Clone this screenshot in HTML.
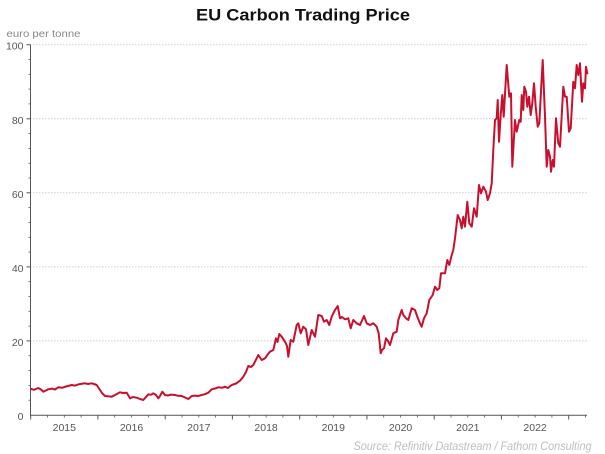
<!DOCTYPE html>
<html>
<head>
<meta charset="utf-8">
<style>
  html, body { margin:0; padding:0; background:#fff; }
  svg { display:block; }
</style>
</head>
<body>
<svg width="605" height="454" viewBox="0 0 605 454" xmlns="http://www.w3.org/2000/svg">
  <rect width="605" height="454" fill="#fff"/>
  <!-- Title -->
  <text x="196" y="20.7" font-family="Liberation Sans, sans-serif" font-weight="bold" font-size="17" fill="#111" textLength="214" lengthAdjust="spacingAndGlyphs">EU Carbon Trading Price</text>
  <!-- Unit label -->
  <text x="6.5" y="37" font-family="Liberation Sans, sans-serif" font-size="10" fill="#888" textLength="74" lengthAdjust="spacingAndGlyphs">euro per tonne</text>

  <!-- Gridlines -->
  <g stroke="#cfcfcf" stroke-width="1" stroke-dasharray="1.5,1.5">
    <line x1="30" y1="44.7" x2="587" y2="44.7"/>
    <line x1="30" y1="118.8" x2="587" y2="118.8"/>
    <line x1="30" y1="192.8" x2="587" y2="192.8"/>
    <line x1="30" y1="266.9" x2="587" y2="266.9"/>
    <line x1="30" y1="340.9" x2="587" y2="340.9"/>
  </g>

  <!-- Y axis -->
  <g stroke="#555" stroke-width="1">
    <line x1="30.5" y1="44.7" x2="30.5" y2="415"/>
    <!-- major ticks -->
    <line x1="26.5" y1="44.7" x2="30.5" y2="44.7"/>
    <line x1="26.5" y1="118.8" x2="30.5" y2="118.8"/>
    <line x1="26.5" y1="192.8" x2="30.5" y2="192.8"/>
    <line x1="26.5" y1="266.9" x2="30.5" y2="266.9"/>
    <line x1="26.5" y1="340.9" x2="30.5" y2="340.9"/>
    <!-- minor ticks every 4 -->
    <g stroke-width="0.8">
      <line x1="28.5" y1="59.5" x2="30.5" y2="59.5"/>
      <line x1="28.5" y1="74.3" x2="30.5" y2="74.3"/>
      <line x1="28.5" y1="89.1" x2="30.5" y2="89.1"/>
      <line x1="28.5" y1="103.9" x2="30.5" y2="103.9"/>
      <line x1="28.5" y1="133.6" x2="30.5" y2="133.6"/>
      <line x1="28.5" y1="148.4" x2="30.5" y2="148.4"/>
      <line x1="28.5" y1="163.2" x2="30.5" y2="163.2"/>
      <line x1="28.5" y1="178.0" x2="30.5" y2="178.0"/>
      <line x1="28.5" y1="207.6" x2="30.5" y2="207.6"/>
      <line x1="28.5" y1="222.4" x2="30.5" y2="222.4"/>
      <line x1="28.5" y1="237.3" x2="30.5" y2="237.3"/>
      <line x1="28.5" y1="252.1" x2="30.5" y2="252.1"/>
      <line x1="28.5" y1="281.7" x2="30.5" y2="281.7"/>
      <line x1="28.5" y1="296.5" x2="30.5" y2="296.5"/>
      <line x1="28.5" y1="311.3" x2="30.5" y2="311.3"/>
      <line x1="28.5" y1="326.1" x2="30.5" y2="326.1"/>
      <line x1="28.5" y1="355.7" x2="30.5" y2="355.7"/>
      <line x1="28.5" y1="370.6" x2="30.5" y2="370.6"/>
      <line x1="28.5" y1="385.4" x2="30.5" y2="385.4"/>
      <line x1="28.5" y1="400.2" x2="30.5" y2="400.2"/>
    </g>
  </g>

  <!-- Y labels -->
  <g font-family="Liberation Sans, sans-serif" font-size="10.5" fill="#555" text-anchor="end">
    <text x="23.5" y="49.7">100</text>
    <text x="23.5" y="123.8">80</text>
    <text x="23.5" y="197.8">60</text>
    <text x="23.5" y="271.9">40</text>
    <text x="23.5" y="345.9">20</text>
    <text x="23.5" y="420">0</text>
  </g>

  <!-- X axis -->
  <g stroke="#555" stroke-width="1">
    <line x1="30" y1="415.3" x2="587" y2="415.3"/>
    <!-- major ticks (years) -->
    <line x1="30.7" y1="415" x2="30.7" y2="419.5"/>
    <line x1="97.9" y1="415" x2="97.9" y2="419.5"/>
    <line x1="165.2" y1="415" x2="165.2" y2="419.5"/>
    <line x1="232.4" y1="415" x2="232.4" y2="419.5"/>
    <line x1="299.7" y1="415" x2="299.7" y2="419.5"/>
    <line x1="366.9" y1="415" x2="366.9" y2="419.5"/>
    <line x1="434.2" y1="415" x2="434.2" y2="419.5"/>
    <line x1="501.4" y1="415" x2="501.4" y2="419.5"/>
    <line x1="568.7" y1="415" x2="568.7" y2="419.5"/>
    <!-- minor ticks (quarters) -->
    <g stroke-width="0.8">
      <line x1="47.5" y1="415" x2="47.5" y2="417.5"/>
      <line x1="64.3" y1="415" x2="64.3" y2="417.5"/>
      <line x1="81.1" y1="415" x2="81.1" y2="417.5"/>
      <line x1="114.7" y1="415" x2="114.7" y2="417.5"/>
      <line x1="131.5" y1="415" x2="131.5" y2="417.5"/>
      <line x1="148.4" y1="415" x2="148.4" y2="417.5"/>
      <line x1="182.0" y1="415" x2="182.0" y2="417.5"/>
      <line x1="198.8" y1="415" x2="198.8" y2="417.5"/>
      <line x1="215.6" y1="415" x2="215.6" y2="417.5"/>
      <line x1="249.2" y1="415" x2="249.2" y2="417.5"/>
      <line x1="266.1" y1="415" x2="266.1" y2="417.5"/>
      <line x1="282.9" y1="415" x2="282.9" y2="417.5"/>
      <line x1="316.5" y1="415" x2="316.5" y2="417.5"/>
      <line x1="333.3" y1="415" x2="333.3" y2="417.5"/>
      <line x1="350.1" y1="415" x2="350.1" y2="417.5"/>
      <line x1="383.7" y1="415" x2="383.7" y2="417.5"/>
      <line x1="400.6" y1="415" x2="400.6" y2="417.5"/>
      <line x1="417.4" y1="415" x2="417.4" y2="417.5"/>
      <line x1="451.0" y1="415" x2="451.0" y2="417.5"/>
      <line x1="467.8" y1="415" x2="467.8" y2="417.5"/>
      <line x1="484.6" y1="415" x2="484.6" y2="417.5"/>
      <line x1="518.2" y1="415" x2="518.2" y2="417.5"/>
      <line x1="535.1" y1="415" x2="535.1" y2="417.5"/>
      <line x1="551.9" y1="415" x2="551.9" y2="417.5"/>
      <line x1="585.5" y1="415" x2="585.5" y2="417.5"/>
    </g>
  </g>

  <!-- X labels -->
  <g font-family="Liberation Sans, sans-serif" font-size="10.5" fill="#555" text-anchor="middle">
    <text x="64.3" y="431">2015</text>
    <text x="131.5" y="431">2016</text>
    <text x="198.8" y="431">2017</text>
    <text x="266.1" y="431">2018</text>
    <text x="333.3" y="431">2019</text>
    <text x="400.6" y="431">2020</text>
    <text x="467.8" y="431">2021</text>
    <text x="535.1" y="431">2022</text>
  </g>

  <!-- Data line -->
  <polyline fill="none" stroke="#c8102e" stroke-width="2" stroke-linejoin="round" stroke-linecap="round"
    points="31,389 34,389.8 38.3,388 41,389.5 43.3,391.7 46,390.5 48.3,389.3 52,388.6 55,389.5 58.3,387.3 62,387.8 66,386.5 71.7,385 75,385.6 79,384.2 85,383.3 88,384 91.7,383.3 94,384 96.7,385 100,390 102,393 105,396 108,396.3 111.7,396.7 116,394.5 120,392.3 123,393 126.7,392.7 130,398.3 133,397 136.7,397.7 140,399 143.3,400 146,397 148.3,394.3 151,394.8 153.3,393.3 156,395 158.3,398.3 160,396 162.3,391.7 165,395 168,395.5 171,394.6 175,395 178,395.8 181.7,396 185,397.5 188.3,399 191.7,396 195,395.6 198,396 201.7,395 205,394.2 208.3,392.7 211.7,389.3 215,388.5 218.3,387.3 222,387.8 225,386.7 228,388 231.7,385 236,383.5 240,380.7 243.3,376.7 246,372 248.3,366 251,367 253.3,365 256.7,358.3 258.3,355 261.7,360 265,358.3 268,354 270,351.7 273.3,350 276,338.3 277.5,342 279.3,334 281.7,336.7 285,341.7 287,346 288.3,356.7 290.7,340 293.3,341.7 296.7,325 298.3,323.3 300.7,333.3 303.3,326.7 306,329.3 308.3,345 311.7,330 315,336.7 318.3,315 321.7,316 324,321.7 326.7,320 329.3,325 331.7,316.7 335,310 337.7,306 340,318.3 342,317 345,319.3 348.3,318.3 350.7,328.3 353.3,320 356.7,323.3 360,325 364,316 366.7,323.3 370,325 373.3,323.3 376.7,326.7 378.7,333.3 380.7,353.3 382,350 384,348.3 386,338.3 388,341 390,345 393.3,333.3 396.7,331.7 398.3,320 401.7,310 403.3,315 406,318.3 408.3,320 411.7,308.3 415,310 417.3,316.7 420,323.3 421.7,326.7 424,318.3 426.7,313.3 429.3,300 432.7,295 435,286.7 437.3,290 439.3,288.3 441,273.3 445,273.3 447.3,260 449.3,265 451.7,255 453.3,250 455,238.3 457.7,215 460,220 461.7,228.3 463.3,216.7 465,226.7 467.3,201.7 469.3,223.3 471.7,226.7 474,208.3 476.7,216.7 479,185 481,193.3 483.3,186.7 486,191.7 487.7,200 490,193.3 491.7,183.3 493.3,150 495,120 496.7,118.3 497.7,100 499,141.7 500.7,115 502.3,95 503.7,116.7 506.7,65 509.3,96.7 511,93.3 512.3,166.7 515,120 516.7,131.7 519.3,120 520.7,121.7 521.7,95 523.3,110 524.3,86.7 526,91.7 527.3,106.7 529,96.7 530.7,115 532.3,103.3 534,83.3 535.7,106.7 537.7,126.7 539.3,123.3 542.7,60 545,116.7 546.7,166.7 548.3,150 550,156.7 551,171.7 552.7,160 554,166.7 556,118.3 558.3,143.3 560,146.7 563.3,86.7 565,96.7 566.7,96.7 569,131.7 570.7,128.3 573.3,81.7 575,88.3 576.7,65 578.3,75 580,63.3 582,101.7 583.3,83.3 585,88.3 586,66.7 587.3,73.3"/>

  <!-- Source -->
  <text x="591.5" y="450" text-anchor="end" font-family="Liberation Sans, sans-serif" font-style="italic" font-size="11.5" fill="#bdbdbd" textLength="238" lengthAdjust="spacingAndGlyphs">Source: Refinitiv Datastream / Fathom Consulting</text>
</svg>
</body>
</html>
